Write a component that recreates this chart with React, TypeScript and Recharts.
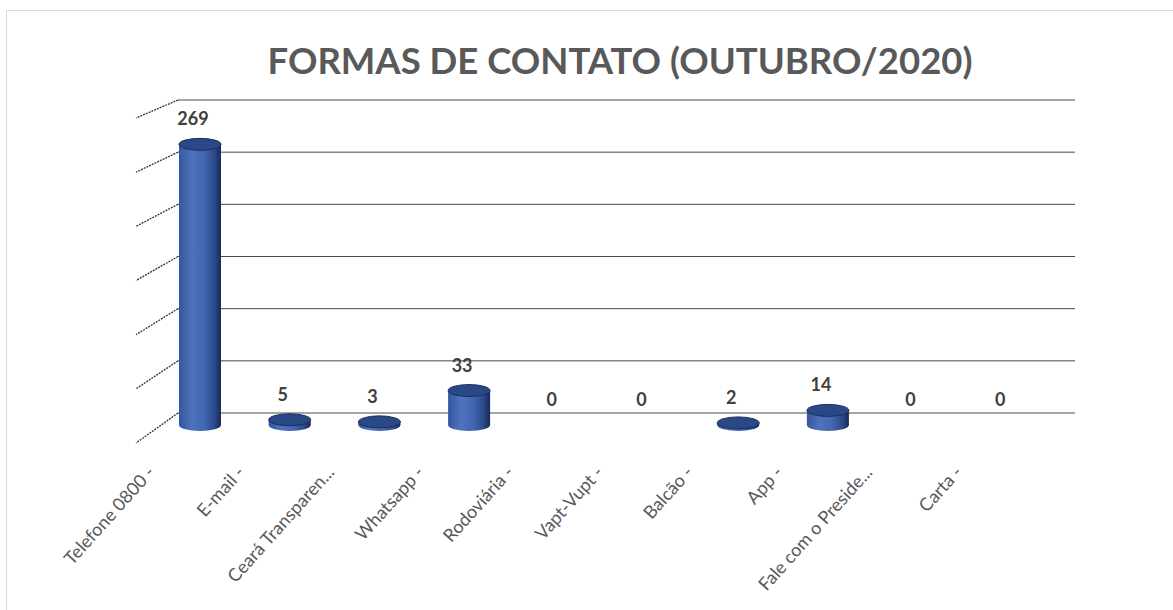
import { BarChart, Bar, XAxis, YAxis, CartesianGrid, LabelList } from "recharts"

const categories = [
  "Telefone 0800 -",
  "E-mail -",
  "Ceará Transparen...",
  "Whatsapp -",
  "Rodoviária -",
  "Vapt-Vupt -",
  "Balcão -",
  "App -",
  "Fale com o Preside...",
  "Carta -",
]
const contatos = [269, 5, 3, 33, 0, 0, 2, 14, 0, 0]
const yTicks = [0, 50, 100, 150, 200, 250, 300]

const data = categories.map((name, i) => ({ name, value: contatos[i] }))

// 3D look: bars sit halfway between the back wall and the front of the floor
const DX = -23
const DY = 12
const FONT = "Lato, 'Open Sans', sans-serif"

function Cylinder(props: any) {
  const { x, y, width, height } = props
  if (!height || height <= 0) return null
  const cx = x + width / 2 + DX
  const top = y + DY
  const bottom = y + height + DY
  const rx = 21
  const ry = 6
  return (
    <g>
      <ellipse cx={cx} cy={bottom} rx={rx} ry={ry} fill="url(#cylBody)" />
      <rect x={cx - rx} y={top} width={rx * 2} height={bottom - top} fill="url(#cylBody)" />
      <ellipse cx={cx} cy={top} rx={rx} ry={ry} fill="#2a4886" stroke="#1b2f5c" strokeWidth={1} />
    </g>
  )
}

function ValueLabel(props: any) {
  const { x, y, width, value } = props
  return (
    <text
      x={x + width / 2 + DX - 7}
      y={y - 7}
      textAnchor="middle"
      fontFamily={FONT}
      fontWeight={700}
      fontSize={18}
      fill="#404040"
    >
      {value}
    </text>
  )
}

function SideTick(props: any) {
  const { x, y, payload } = props
  const drop = 30 - (12 * payload.value) / 300
  return (
    <line x1={x} y1={y} x2={x - 42} y2={y + drop} stroke="#333" strokeWidth={1.3} strokeDasharray="2 1" />
  )
}

function CategoryTick(props: any) {
  const { x, y, payload } = props
  const tx = x - 67
  const ty = y + 60
  return (
    <text
      x={tx}
      y={ty}
      textAnchor="end"
      transform={`rotate(-48 ${tx} ${ty})`}
      fontFamily={FONT}
      fontSize={18}
      fill="#595959"
    >
      {payload.value}
    </text>
  )
}

export default function App() {
  return (
    <div style={{ position: "fixed", left: 0, top: 0, width: 1173, height: 610, overflow: "hidden", background: "#fff" }}>
      <div
        style={{
          position: "absolute",
          left: 6,
          top: 10,
          width: 1300,
          height: 800,
          border: "1px solid #d9d9d9",
        }}
      />
      <div
        style={{
          position: "absolute",
          left: 0,
          width: 1240,
          top: 39,
          textAlign: "center",
          fontFamily: FONT,
          fontWeight: 700,
          fontSize: 36.5,
          color: "#595959",
          lineHeight: "42px",
        }}
      >
        FORMAS DE CONTATO (OUTUBRO/2020)
      </div>
      <div style={{ position: "absolute", left: 0, top: 0 }}>
        <BarChart
          width={1173}
          height={610}
          data={data}
          margin={{ top: 100, right: 98, bottom: 167, left: 135 }}
        >
          <defs>
            <linearGradient id="cylBody" x1="0" y1="0" x2="1" y2="0">
              <stop offset="0%" stopColor="#33569e" />
              <stop offset="30%" stopColor="#4f73bb" />
              <stop offset="60%" stopColor="#4167b2" />
              <stop offset="85%" stopColor="#2b4888" />
              <stop offset="100%" stopColor="#162a55" />
            </linearGradient>
          </defs>
          <CartesianGrid vertical={false} stroke="#4a4a4a" strokeWidth={1} />
          <XAxis
            dataKey="name"
            axisLine={false}
            tickLine={false}
            tickSize={0}
            tickMargin={0}
            interval={0}
            height={30}
            tick={<CategoryTick />}
          />
          <YAxis
            domain={[0, 300]}
            ticks={yTicks}
            width={43}
            axisLine={false}
            tickLine={false}
            tickSize={0}
            tickMargin={0}
            tick={<SideTick />}
          />
          <Bar dataKey="value" barSize={42} shape={<Cylinder />} isAnimationActive={false}>
            <LabelList dataKey="value" content={<ValueLabel />} />
          </Bar>
        </BarChart>
      </div>
    </div>
  )
}
